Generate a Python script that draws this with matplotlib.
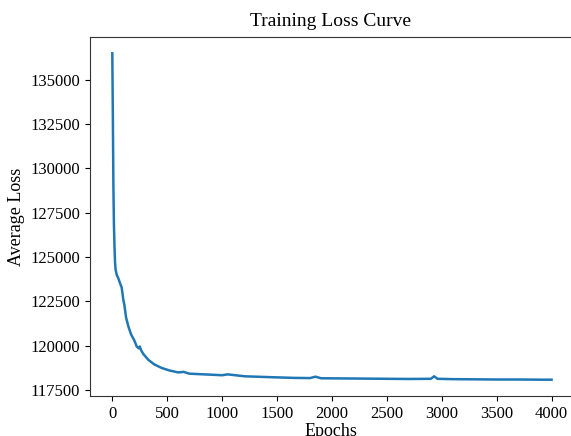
import matplotlib
matplotlib.use("Agg")
import matplotlib.pyplot as plt

# Werte (Epoche, mittlerer Verlust)
epochs = [0, 5, 10, 15, 20, 25, 30, 40, 55, 70, 85, 100, 110, 125, 146, 170, 200,
          222, 240, 250, 262, 280, 328, 380, 450, 520, 600, 650, 700, 800, 904,
          1000, 1050, 1207, 1400, 1500, 1662, 1800, 1850, 1900, 2100, 2300, 2500,
          2700, 2900, 2930, 2960, 3100, 3300, 3500, 3700, 3900, 3999]
loss = [136500, 133000, 129000, 126800, 125600, 124700, 124300, 124000, 123800,
        123530, 123300, 122600, 122300, 121600, 121090, 120650, 120300, 119960,
        119850, 119950, 119750, 119550, 119200, 118950, 118740, 118600, 118490,
        118520, 118420, 118390, 118360, 118330, 118380, 118270, 118230, 118210,
        118180, 118170, 118250, 118160, 118150, 118140, 118130, 118120, 118130,
        118270, 118130, 118110, 118100, 118090, 118090, 118080, 118080]

plt.rcParams['font.family'] = ['Liberation Serif', 'DejaVu Serif']

fig = plt.figure(figsize=(5.71, 4.36), dpi=100)
# rechter Rand liegt ausserhalb des Bildes, wie im Original
ax = fig.add_axes([90 / 571, 40 / 436, 492 / 571, 359 / 436])

ax.plot(epochs, loss, color='#1f77b4', linewidth=1.8)

ax.set_xlim(-203, 4276)
ax.set_title('Training Loss Curve', fontsize=14, pad=8, x=0.488)
ax.set_xlabel('Epochs', fontsize=13, labelpad=0)
ax.xaxis.set_label_coords(0.49, -0.075)
ax.set_ylabel('Average Loss', fontsize=13)
ax.set_xticks([0, 500, 1000, 1500, 2000, 2500, 3000, 3500, 4000])
ax.set_yticks([117500, 120000, 122500, 125000, 127500, 130000, 132500, 135000])
ax.tick_params(labelsize=12)
for s in ax.spines.values():
    s.set_color('#333333')

fig.savefig('out.png', dpi=100)
